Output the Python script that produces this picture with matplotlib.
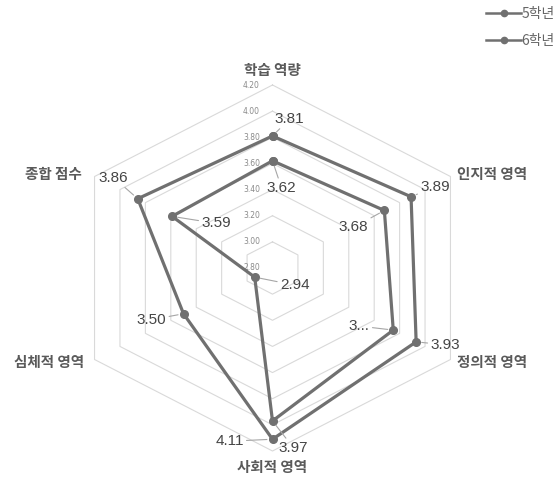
import matplotlib
matplotlib.use('Agg')
import matplotlib.pyplot as plt
from matplotlib.lines import Line2D
import numpy as np

# ---------------- data ----------------
categories = ['학습 역량', '인지적 영역', '정의적 영역', '사회적 영역', '심체적 영역', '종합 점수']
series_names = ['5학년', '6학년']
grade5 = [3.62, 3.68, 3.75, 3.97, 2.94, 3.59]
grade6 = [3.81, 3.89, 3.93, 4.11, 3.50, 3.86]
grade5_text = ['3.62', '3.68', '3...', '3.97', '2.94', '3.59']
grade6_text = ['3.81', '3.89', '3.93', '4.11', '3.50', '3.86']
r_ticks = [2.80, 3.00, 3.20, 3.40, 3.60, 3.80, 4.00, 4.20]
r_tick_labels = ['2.80', '3.00', '3.20', '3.40', '3.60', '3.80', '4.00', '4.20']

# ---------------- layout (pixel offsets for labels) ----------------
g5_off = [(9, -27), (-31, -17), (-34, 4), (21, -27), (40, -8), (44, -7)]
g6_off = [(17, 17), (24, 10), (29, -3), (-43, -2), (-32, -6), (-24, 21)]
cat_off = [((0, 15), 'center'), ((7, 2), 'left'), ((7, -3), 'left'),
           ((0, -16), 'center'), ((-10, -2), 'right'), ((-13, 3), 'right')]

LINE = '#707070'
GRID = '#d9d9d9'
NUM_FONT = ['Liberation Sans Narrow', 'Liberation Sans', 'DejaVu Sans']
KR_FONT = ['Noto Sans CJK KR', 'DejaVu Sans']

W, H = 557, 478
fig = plt.figure(figsize=(W / 100, H / 100), dpi=100)
ax = fig.add_axes([67 / W, (H - 451) / H, 411 / W, 366 / H], projection='polar')
ax.set_aspect('auto')
ax.set_theta_offset(np.pi / 2)
ax.set_theta_direction(-1)
ax.set_ylim(r_ticks[0], r_ticks[-1])
ax.set_xticks([])
ax.set_yticks([])
ax.grid(False)
ax.spines['polar'].set_visible(False)
ax.patch.set_visible(False)

n = len(categories)
theta = np.arange(n) * 2 * np.pi / n
theta_c = np.append(theta, theta[0])

# hexagonal grid
for v in r_ticks[1:]:
    ax.plot(theta_c, [v] * (n + 1), color=GRID, lw=0.8, zorder=1, clip_on=False)

# radial tick labels along the top axis
for v, t in zip(r_ticks, r_tick_labels):
    ax.annotate(t, xy=(0, v), xytext=(-21, 0), textcoords='offset pixels',
                ha='center', va='center', fontsize=5.5, color='#8a8a8a',
                family=['DejaVu Sans'], zorder=2, annotation_clip=False)

# series
for vals, name in zip([grade5, grade6], series_names):
    vc = np.append(vals, vals[0])
    ax.plot(theta_c, vc, color=LINE, lw=2.3, marker='o', markersize=5.5,
            zorder=4, clip_on=False, label=name)

# value labels with leader lines
for vals, texts, offs in [(grade5, grade5_text, g5_off), (grade6, grade6_text, g6_off)]:
    for th, v, t, o in zip(theta, vals, texts, offs):
        ax.annotate(t, xy=(th, v), xytext=o, textcoords='offset pixels',
                    ha='center', va='center', fontsize=11, color='#454545',
                    family=NUM_FONT, zorder=5, annotation_clip=False,
                    arrowprops=dict(arrowstyle='-', color='#a6a6a6', lw=0.8,
                                    shrinkA=0, shrinkB=4))

# category labels
for th, c, (o, ha) in zip(theta, categories, cat_off):
    ax.annotate(c, xy=(th, r_ticks[-1]), xytext=o, textcoords='offset pixels',
                ha=ha, va='center', fontsize=10.5, color='#5a5a5a',
                fontweight='bold', family=KR_FONT, annotation_clip=False)

# legend (thinner line/marker in the key, as in the reference)
legend_handles = [Line2D([], [], color=LINE, lw=1.8, marker='o', markersize=4.5)
                  for _ in series_names]
fig.legend(handles=legend_handles, labels=series_names, loc='upper right',
           bbox_to_anchor=(555 / W, 1 - 7 / H), frameon=False,
           prop={'family': KR_FONT, 'size': 10}, labelcolor='#666666',
           handlelength=2.5, handletextpad=0.05, labelspacing=0.95,
           borderpad=0, borderaxespad=0)

fig.savefig('out.png', dpi=100)
